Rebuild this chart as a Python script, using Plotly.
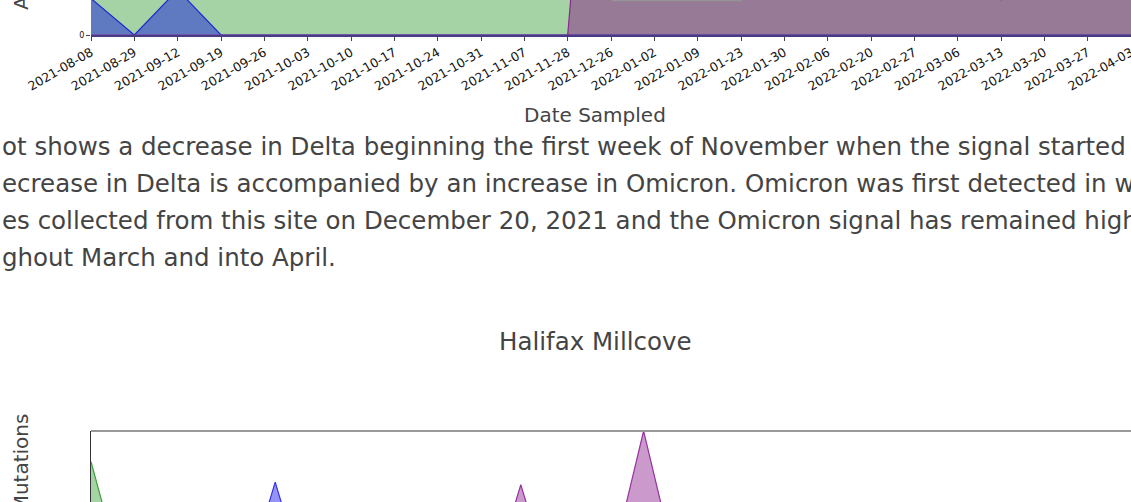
import plotly.graph_objects as go

W, H = 1131, 502

# ---------------- data: top chart (site above, bottom part visible) ----------------
dates_top = ["2021-08-08", "2021-08-29", "2021-09-12", "2021-09-19", "2021-09-26",
             "2021-10-03", "2021-10-10", "2021-10-17", "2021-10-24", "2021-10-31",
             "2021-11-07", "2021-11-28", "2021-12-26", "2022-01-02", "2022-01-09",
             "2022-01-23", "2022-01-30", "2022-02-06", "2022-02-20", "2022-02-27",
             "2022-03-06", "2022-03-13", "2022-03-20", "2022-03-27", "2022-04-03"]
green_top = [0.85, 0.90, 0.80, 0.88, 0.90, 0.92, 0.90, 0.88, 0.90, 0.85,
             0.70, 0.60, 0.45, 0.40, 0.35, 0.30, 0.30, 0.25, 0.20, 0.20,
             0.15, 0.0695, 0.15, 0.20, 0.20]
blue_top = [0.072, 0.0, 0.089, 0.0, 0.0, 0.0, 0.0, 0.0, 0.0, 0.0,
            0.0, 0.0, 0.0, 0.0, 0.0, 0.0, 0.0, 0.0, 0.0, 0.0,
            0.0, 0.0, 0.0, 0.0, 0.0]
purple_top = [0.0, 0.0, 0.0, 0.0, 0.0, 0.0, 0.0, 0.0, 0.0, 0.0,
              0.0, 0.0, 1.0, 0.95, 0.97, 0.96, 0.95, 0.97, 0.96, 0.95,
              0.96, 0.97, 0.95, 0.96, 0.95]

# ---------------- data: Halifax Millcove (top part visible) ----------------
dates_mc = ["2021-08-08", "2021-08-29", "2021-09-12", "2021-09-19", "2021-09-26",
            "2021-10-03", "2021-10-17", "2021-10-31", "2021-11-14", "2021-11-28",
            "2021-12-12", "2022-01-02", "2022-01-16", "2022-01-30", "2022-02-13",
            "2022-02-27", "2022-03-13", "2022-03-27"]
green_mc = [0.88, 0.0, 0.0, 0.0, 0.0, 0.0, 0.0, 0.0, 0.0, 0.0,
            0.0, 0.0, 0.0, 0.0, 0.0, 0.0, 0.0, 0.0]
blue_mc = [0.0, 0.0, 0.0, 0.80, 0.0, 0.0, 0.0, 0.0, 0.0, 0.0,
           0.0, 0.0, 0.0, 0.0, 0.0, 0.0, 0.0, 0.0]
purple_mc = [0.0, 0.0, 0.0, 0.0, 0.0, 0.0, 0.0, 0.79, 0.0, 1.0,
             0.0, 0.3, 0.5, 0.4, 0.5, 0.45, 0.5, 0.4]

paragraph = [
    "ot shows a decrease in Delta beginning the first week of November when the signal started",
    "ecrease in Delta is accompanied by an increase in Omicron. Omicron was first detected in wastewater",
    "es collected from this site on December 20, 2021 and the Omicron signal has remained high",
    "ghout March and into April.",
]
y_title = "Abundance of Mutations"

FONT = "DejaVu Sans"
TXT = "#444444"

GREEN_F, GREEN_L = "rgba(0,128,0,0.35)", "rgba(0,128,0,0.9)"
BLUE_F, BLUE_L = "rgba(0,0,230,0.42)", "rgba(30,40,210,1)"
PURP_F, PURP_L = "rgba(128,0,128,0.42)", "rgba(140,40,150,1)"


def px(x):
    return x / W


def py(y):
    return 1 - y / H


fig = go.Figure()

for vals, fc, lc in [(green_top, GREEN_F, GREEN_L), (blue_top, BLUE_F, BLUE_L),
                     (purple_top, PURP_F, PURP_L)]:
    fig.add_trace(go.Scatter(x=dates_top, y=vals, mode="lines", fill="tozeroy",
                             fillcolor=fc, line=dict(color=lc, width=1.2),
                             xaxis="x", yaxis="y", showlegend=False, hoverinfo="skip"))

for vals, fc, lc in [(green_mc, "rgba(0,128,0,0.35)", "rgba(60,160,60,1)"),
                     (blue_mc, "rgba(0,0,235,0.42)", "rgba(50,50,230,1)"),
                     (purple_mc, "rgba(128,0,128,0.4)", "rgba(150,50,160,1)")]:
    fig.add_trace(go.Scatter(x=dates_mc, y=vals, mode="lines", fill="tozeroy",
                             fillcolor=fc, line=dict(color=lc, width=1.2),
                             xaxis="x2", yaxis="y2", showlegend=False, hoverinfo="skip"))

step_mc = 61.4
title_half = 122  # half length of the rotated y title, px

annotations = []
for i, line in enumerate(paragraph):
    annotations.append(dict(text=line, xref="paper", yref="paper", x=px(0), y=py(147 + i * 36.9),
                            xanchor="left", yanchor="middle", showarrow=False,
                            font=dict(family=FONT, size=24.5, color=TXT)))
annotations += [
    dict(text="Date Sampled", xref="paper", yref="paper", x=px(595), y=py(115),
         xanchor="center", yanchor="middle", showarrow=False,
         font=dict(family=FONT, size=20, color=TXT)),
    dict(text="Halifax Millcove", xref="paper", yref="paper", x=px(595), y=py(341),
         xanchor="center", yanchor="middle", showarrow=False,
         font=dict(family=FONT, size=24.5, color=TXT)),
    dict(text=y_title, xref="paper", yref="paper", x=px(21), y=py(11 - title_half),
         xanchor="center", yanchor="middle", textangle=-90, showarrow=False,
         font=dict(family=FONT, size=20, color=TXT)),
    dict(text=y_title, xref="paper", yref="paper", x=px(21), y=py(414 + title_half),
         xanchor="center", yanchor="middle", textangle=-90, showarrow=False,
         font=dict(family=FONT, size=20, color=TXT)),
]

fig.update_layout(
    template="none",
    width=W, height=H,
    margin=dict(l=0, r=0, t=0, b=0, pad=0, autoexpand=False),
    paper_bgcolor="white", plot_bgcolor="white",
    font=dict(family=FONT),
    showlegend=False,
    xaxis=dict(domain=[px(91), 1], type="category", categoryorder="array",
               categoryarray=dates_top, range=[0, len(dates_top) - 1],
               automargin=False,
               showgrid=False, zeroline=False, showline=True,
               linecolor="rgb(70,60,130)", linewidth=1.5,
               ticks="outside", ticklen=4, tickcolor="#444", tickwidth=1,
               tickangle=-30, tickfont=dict(family=FONT, size=12.5, color="#111")),
    yaxis=dict(domain=[py(35), 1], range=[0, 0.069], showgrid=False, zeroline=False,
               automargin=False,
               tickvals=[0], ticktext=["0"], ticks="outside", ticklen=4,
               tickcolor="#444", tickfont=dict(family=FONT, size=8, color="#111"),
               showline=False, fixedrange=True),
    xaxis2=dict(domain=[px(91), 1], type="category", categoryorder="array",
                categoryarray=dates_mc, range=[0, (W - 91) / step_mc],
                automargin=False, visible=False, anchor="y2"),
    yaxis2=dict(domain=[0, py(431)], range=[1 - 71 / 256, 1.0], showgrid=False,
                automargin=False,
                zeroline=False, showticklabels=False, ticks="", showline=True,
                linecolor="#333", linewidth=1, anchor="x2"),
    shapes=[
        dict(type="line", xref="paper", yref="paper", x0=px(91), x1=1,
             y0=py(431), y1=py(431), line=dict(color="#999", width=2)),
        # bottom edge of the (off-screen) legend frame of the chart above
        dict(type="line", xref="paper", yref="paper", x0=px(612), x1=px(742),
             y0=py(0.5), y1=py(0.5), line=dict(color="rgba(150,150,150,0.9)", width=1.5)),
    ],
    annotations=annotations,
)

fig.write_html("out.html",
               config={"displayModeBar": False, "staticPlot": True},
               post_script="document.body.style.margin='0px';document.body.style.overflow='hidden';")
